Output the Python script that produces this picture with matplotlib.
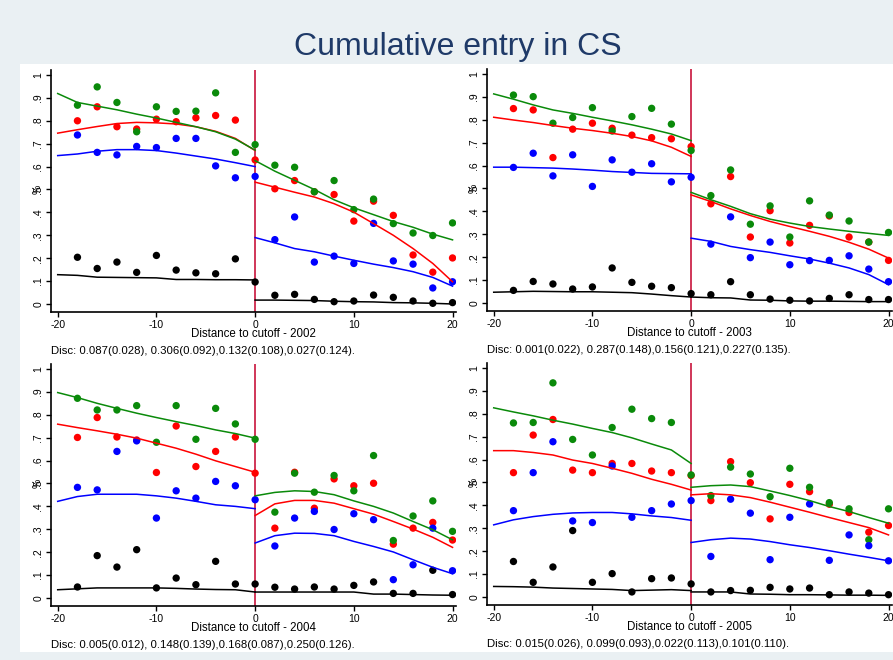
import numpy as np
import matplotlib.pyplot as plt
from matplotlib.patches import Rectangle

plt.rcParams['font.family'] = ['Liberation Sans', 'DejaVu Sans']
plt.rcParams['axes.unicode_minus'] = False

years = [2002, 2003, 2004, 2005]
x_bins = list(range(-18, 21, 2))
x_fit_left = list(range(-20, 1, 2))
x_fit_right = list(range(0, 21, 2))
ytick_vals = [0, .1, .2, .3, .4, .5, .6, .7, .8, .9, 1]
ytick_labels = ['0', '.1', '.2', '.3', '.4', '.5', '.6', '.7', '.8', '.9', '1']
xtick_vals = [-20, -10, 0, 10, 20]

# bin means, x = -18..20
pts_g02 = [.868, .948, .880, .752, .861, .841, .842, .922, .662, .696, .606, .597, .490, .539, .412, .458, .351, .310, .299, .354]
pts_r02 = [.800, .861, .774, .764, .807, .796, .813, .823, .803, .629, .503, .539, .490, .478, .362, .449, .387, .214, .139, .201]
pts_b02 = [.738, .662, .651, .688, .683, .723, .723, .603, .551, .557, .281, .380, .183, .209, .177, .352, .188, .174, .070, .097]
pts_k02 = [.204, .155, .183, .138, .212, .148, .136, .132, .197, .096, .038, .042, .020, .010, .013, .039, .029, .013, .003, .006]

pts_g03 = [.908, .901, .785, .810, .853, .751, .814, .850, .781, .666, .469, .581, .344, .424, .288, .446, .384, .358, .266, .308]
pts_r03 = [.849, .843, .635, .759, .785, .763, .733, .722, .717, .683, .433, .552, .288, .403, .262, .339, .380, .288, .266, .186]
pts_b03 = [.592, .654, .555, .647, .509, .625, .571, .608, .529, .549, .257, .376, .198, .266, .167, .185, .186, .206, .148, .093]
pts_k03 = [.055, .094, .083, .061, .070, .153, .090, .073, .067, .041, .036, .093, .036, .017, .012, .009, .020, .036, .015, .015]

pts_g04 = [.872, .821, .821, .840, .680, .840, .693, .828, .760, .693, .375, .545, .462, .535, .468, .622, .251, .358, .424, .291]
pts_r04 = [.701, .788, .703, .690, .548, .751, .574, .640, .703, .545, .305, .549, .392, .520, .490, .501, .235, .305, .330, .253]
pts_b04 = [.483, .472, .640, .686, .349, .468, .436, .509, .490, .429, .227, .349, .378, .299, .368, .342, .080, .145, .305, .119]
pts_k04 = [.048, .185, .135, .211, .044, .087, .058, .160, .061, .061, .047, .039, .048, .039, .055, .070, .020, .020, .121, .015]

pts_g05 = [.760, .762, .935, .688, .620, .740, .820, .779, .762, .533, .443, .567, .537, .438, .562, .479, .412, .385, .250, .385]
pts_r05 = [.543, .707, .775, .554, .543, .583, .583, .550, .543, .530, .421, .591, .499, .341, .492, .460, .405, .369, .283, .312]
pts_b05 = [.377, .543, .678, .332, .325, .572, .348, .377, .406, .421, .177, .427, .366, .163, .348, .406, .160, .271, .224, .158]
pts_k05 = [.155, .064, .131, .290, .064, .102, .022, .080, .083, .057, .022, .028, .029, .042, .035, .039, .010, .022, .017, .010]

# fitted curves: 11 values left of cutoff (-20..0), then 11 right (0..20)
fit_g02 = [.919, .880, .864, .848, .829, .812, .793, .774, .752, .720, .672,
           .626, .580, .540, .500, .455, .420, .390, .360, .335, .305, .280]
fit_r02 = [.746, .761, .775, .788, .793, .791, .786, .774, .754, .723, .670,
           .532, .510, .488, .467, .438, .401, .351, .300, .242, .177, .097]
fit_b02 = [.648, .655, .667, .674, .674, .670, .659, .646, .633, .617, .600,
           .290, .267, .242, .228, .209, .191, .174, .159, .141, .116, .078]
fit_k02 = [.128, .125, .117, .116, .115, .114, .107, .107, .106, .106, .105,
           .017, .017, .016, .015, .012, .010, .009, .006, .005, .003, .000]

fit_g03 = [.913, .890, .865, .843, .828, .811, .795, .778, .759, .738, .709,
           .483, .451, .422, .390, .366, .349, .334, .323, .313, .304, .295]
fit_r03 = [.811, .799, .788, .775, .763, .753, .741, .727, .708, .680, .640,
           .472, .443, .411, .382, .356, .334, .313, .291, .265, .235, .196]
fit_b03 = [.593, .593, .591, .589, .585, .580, .574, .570, .566, .565, .564,
           .283, .269, .247, .233, .221, .206, .192, .174, .153, .124, .080]
fit_k03 = [.047, .049, .051, .050, .049, .049, .047, .045, .039, .032, .026,
           .026, .023, .022, .013, .012, .009, .008, .008, .007, .006, .006]

fit_g04 = [.897, .875, .850, .828, .807, .788, .770, .753, .734, .718, .698,
           .446, .461, .468, .465, .451, .424, .400, .371, .334, .298, .254]
fit_r04 = [.759, .744, .730, .715, .698, .676, .654, .628, .599, .574, .549,
           .360, .411, .426, .426, .414, .390, .366, .334, .301, .265, .221]
fit_b04 = [.422, .443, .453, .453, .453, .446, .436, .422, .407, .400, .390,
           .240, .272, .283, .282, .272, .247, .225, .201, .167, .134, .106]
fit_k04 = [.036, .040, .044, .044, .044, .044, .042, .039, .037, .036, .026,
           .026, .026, .026, .026, .026, .026, .017, .017, .015, .013, .012]

fit_g05 = [.826, .808, .791, .772, .755, .736, .718, .695, .668, .642, .583,
           .479, .486, .489, .482, .463, .443, .421, .395, .373, .347, .322]
fit_r05 = [.639, .639, .631, .620, .598, .583, .562, .540, .514, .492, .467,
           .446, .451, .446, .434, .414, .392, .370, .347, .325, .303, .271]
fit_b05 = [.315, .337, .351, .361, .367, .369, .369, .363, .354, .347, .335,
           .238, .250, .257, .253, .242, .228, .216, .202, .187, .173, .158]
fit_k05 = [.046, .045, .043, .039, .037, .035, .033, .028, .030, .032, .028,
           .022, .022, .022, .013, .012, .010, .010, .009, .008, .008, .007]

disc02 = "Disc: 0.087(0.028), 0.306(0.092),0.132(0.108),0.027(0.124)."
disc03 = "Disc: 0.001(0.022), 0.287(0.148),0.156(0.121),0.227(0.135)."
disc04 = "Disc: 0.005(0.012), 0.148(0.139),0.168(0.087),0.250(0.126)."
disc05 = "Disc: 0.015(0.026), 0.099(0.093),0.022(0.113),0.101(0.110)."

panels = [
    (2002, [pts_r02, pts_g02, pts_b02, pts_k02], [fit_r02, fit_g02, fit_b02, fit_k02], disc02),
    (2003, [pts_r03, pts_g03, pts_b03, pts_k03], [fit_r03, fit_g03, fit_b03, fit_k03], disc03),
    (2004, [pts_r04, pts_g04, pts_b04, pts_k04], [fit_r04, fit_g04, fit_b04, fit_k04], disc04),
    (2005, [pts_r05, pts_g05, pts_b05, pts_k05], [fit_r05, fit_g05, fit_b05, fit_k05], disc05),
]
colors = ['#ff0000', '#0a8a0a', '#0000ff', '#000000']

W, H = 893, 660
fig = plt.figure(figsize=(W / 100, H / 100), dpi=100)
fig.patch.set_facecolor('#eaf0f3')
fig.patches.append(Rectangle((20 / W, 1 - 652 / H), 873 / W, (652 - 64) / H,
                             transform=fig.transFigure, facecolor='white',
                             edgecolor='none', zorder=-10))
fig.text(458 / W, 1 - 47 / H, 'Cumulative entry in CS', ha='center', va='center',
         fontsize=23, color='#1f3a68')

ylo, yhi = -0.035, 1.02
xlo, xhi = -20.68, 20.3
ax_w, ax_h = 404.5, 241.6
# left px, bottom px (from top of image)
positions = [(51, 312), (487, 311), (51, 606), (487, 605)]

for (year, pts, fits, disc), (lx, by) in zip(panels, positions):
    ax = fig.add_axes([lx / W, 1 - by / H, ax_w / W, ax_h / H])
    ax.set_facecolor('none')
    for p, f, c in zip(pts, fits, colors):
        ax.scatter(x_bins, p, s=28, color=c, edgecolors='none', zorder=2)
        ax.plot(x_fit_left, f[:11], color=c, lw=1.1, zorder=3)
        ax.plot(x_fit_right, f[11:], color=c, lw=1.1, zorder=3)
    ax.axvline(0, color='#c8143c', lw=1.2, zorder=1)
    ax.set_xlim(xlo, xhi)
    ax.set_ylim(ylo, yhi)
    for s in ['top', 'right']:
        ax.spines[s].set_visible(False)
    ax.spines['left'].set_linewidth(1.2)
    ax.spines['bottom'].set_linewidth(1.2)
    ax.set_xticks(xtick_vals)
    ax.set_yticks(ytick_vals)
    ax.set_yticklabels(ytick_labels, rotation=90, va='center')
    ax.tick_params(axis='both', length=3.5, width=1, pad=2, labelsize=7.5)
    ax.text(-0.034, (0.5 - ylo) / (yhi - ylo), '%', transform=ax.transAxes,
            rotation=90, ha='center', va='center', fontsize=7.5)
    ax.text(0.5, -0.092, 'Distance to cutoff - %d' % year, transform=ax.transAxes,
            ha='center', va='center', fontsize=8.3)
    ax.text(0.0, -0.16, disc, transform=ax.transAxes,
            ha='left', va='center', fontsize=8.2)

fig.savefig('out.png', dpi=100, facecolor=fig.get_facecolor())
